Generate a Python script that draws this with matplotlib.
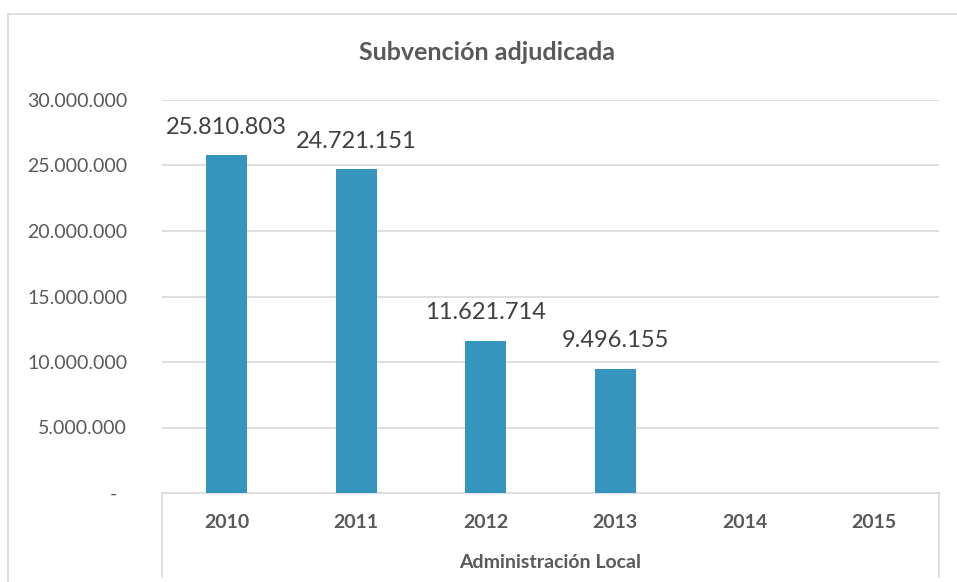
import numpy as np
import matplotlib
matplotlib.use("Agg")
from matplotlib import pyplot as plt
from matplotlib.lines import Line2D
import matplotlib.transforms as mtransforms

plt.rcParams['font.family'] = ['Lato', 'DejaVu Sans']

years = ['2010', '2011', '2012', '2013', '2014', '2015']
values = [25810803, 24721151, 11621714, 9496155, 0, 0]
value_labels = ['25.810.803', '24.721.151', '11.621.714', '9.496.155', '', '']
y_ticks = [0, 5000000, 10000000, 15000000, 20000000, 25000000, 30000000]
y_tick_labels = ['-', '5.000.000', '10.000.000', '15.000.000',
                 '20.000.000', '25.000.000', '30.000.000']
group_label = 'Administración Local'
title = 'Subvención adjudicada'

W, H = 957, 582
txt = '#595959'
grid_c = '#D9D9D9'
bar_c = '#3595BC'

fig = plt.figure(figsize=(W / 100, H / 100), dpi=100)
fig.patch.set_facecolor('white')

# plot area in pixels
left, right, top, bottom = 162, 939, 100, 493
ax = fig.add_axes([left / W, 1 - bottom / H, (right - left) / W, (bottom - top) / H])

x = np.arange(len(years))
ax.bar(x, values, width=0.32, color=bar_c, zorder=3)
ax.set_xlim(-0.5, len(years) - 0.5)
ax.set_ylim(0, 30000000)

for xi, v, lab in zip(x, values, value_labels):
    if lab:
        ax.annotate(lab, (xi, v), xytext=(0, 20), textcoords='offset points',
                    ha='center', va='center', fontsize=17, color='#404040')

ax.set_yticks(y_ticks)
ax.set_yticklabels(y_tick_labels, fontsize=14, color=txt)
ax.tick_params(axis='y', length=0, pad=25)
ax.grid(axis='y', color=grid_c, linewidth=1.2, zorder=0)
# the zero label sits a bit further left
zlab = ax.get_yticklabels()[0]
zlab.set_transform(zlab.get_transform() + mtransforms.ScaledTranslation(-10 / 100, 0, fig.dpi_scale_trans))

ax.set_xticks(x)
ax.set_xticklabels(years, fontsize=14, fontweight='bold', color=txt)
ax.tick_params(axis='x', length=0, pad=15)

for s in ['top', 'right', 'left']:
    ax.spines[s].set_visible(False)
ax.spines['bottom'].set_color(grid_c)
ax.spines['bottom'].set_linewidth(1.2)

# category group separators and group label
for px in (left, right):
    fig.add_artist(Line2D([px / W, px / W], [1 - bottom / H, 1 - 577 / H],
                          color=grid_c, linewidth=1.2))
fig.text((left + right) / 2 / W, 1 - 562 / H, group_label, ha='center', va='center',
         fontsize=14, fontweight='bold', color=txt)

fig.text(487 / W, 1 - 53 / H, title, ha='center', va='center',
         fontsize=18, fontweight='bold', color=txt)

# chart frame (cropped at right and bottom)
fig.add_artist(Line2D([8 / W, 1.0], [1 - 14 / H, 1 - 14 / H], color=grid_c, linewidth=1.2))
fig.add_artist(Line2D([8 / W, 8 / W], [1 - 14 / H, 0], color=grid_c, linewidth=1.2))

fig.savefig('out.png', dpi=100)
